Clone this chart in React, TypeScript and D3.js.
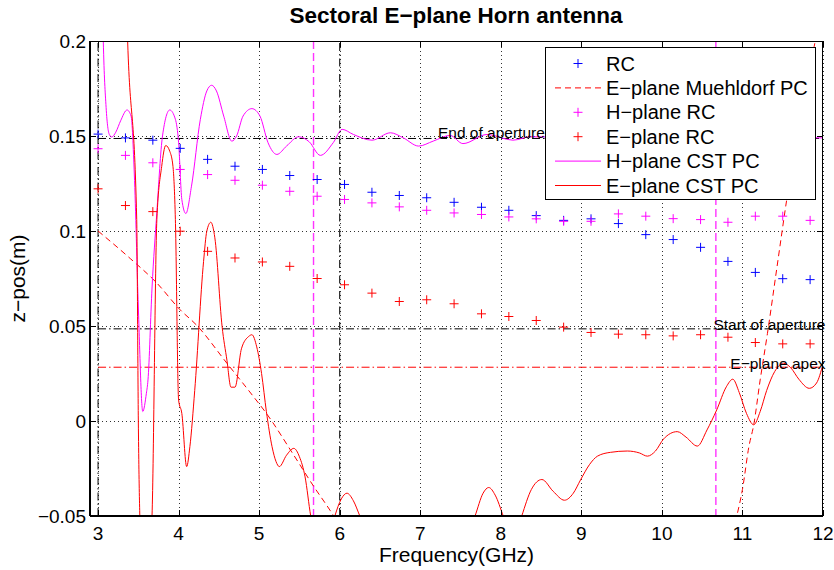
import React, { useEffect, useRef } from 'react';
import * as d3 from 'd3';

// sample frequencies of the ray-centre (RC) results, GHz
const freqRC = [3.0, 3.34, 3.68, 4.02, 4.36, 4.7, 5.04, 5.38, 5.72, 6.06, 6.4, 6.74, 7.08, 7.42,
  7.76, 8.1, 8.44, 8.78, 9.12, 9.46, 9.8, 10.14, 10.48, 10.82, 11.16, 11.5, 11.84];

const rcZ = [0.151, 0.149, 0.1478, 0.1435, 0.1377, 0.1341, 0.1324, 0.1292, 0.1271, 0.1245, 0.1204,
  0.1187, 0.1175, 0.1151, 0.1125, 0.1109, 0.1081, 0.1056, 0.1064, 0.1039, 0.0981, 0.0955, 0.0914,
  0.084, 0.0782, 0.0749, 0.0744];

const hPlaneRcZ = [0.1433, 0.1398, 0.1359, 0.1324, 0.1297, 0.1267, 0.1241, 0.1209, 0.1183, 0.1166,
  0.1148, 0.1127, 0.1109, 0.1095, 0.1087, 0.1074, 0.1064, 0.1051, 0.1051, 0.109, 0.1078, 0.1065,
  0.106, 0.1046, 0.1078, 0.1078, 0.1056];

const ePlaneRcZ = [0.1222, 0.1134, 0.1102, 0.0999, 0.0893, 0.0858, 0.0837, 0.0814, 0.075, 0.0717,
  0.0673, 0.0629, 0.0638, 0.0617, 0.0564, 0.055, 0.0529, 0.0494, 0.0466, 0.0457, 0.0454, 0.0448,
  0.0454, 0.0441, 0.0413, 0.0406, 0.0406];

// Muehldorf phase centre, E-plane (leaves the axes between ~6 and ~11 GHz)
const muehldorfPC: Array<[number, number]> = [
  [3.0, 0.1], [3.4, 0.0855], [3.73, 0.0726], [4.02, 0.0585], [4.22, 0.0506], [4.6, 0.0304],
  [4.93, 0.0128], [5.09, 0.004], [5.43, -0.018], [5.68, -0.0346], [5.88, -0.047], [6.1, -0.062],
  [7.0, -0.13], [8.5, -0.2], [10.0, -0.15], [10.7, -0.085], [10.93, -0.05], [11.0, -0.036],
  [11.08, -0.0135], [11.14, -0.002], [11.22, 0.0216], [11.31, 0.046], [11.43, 0.0814],
  [11.55, 0.1166], [11.7, 0.155], [11.89, 0.197], [11.95, 0.21],
];

const hPlaneCST: Array<[number, number]> = [
  [3.0, 0.4], [3.065, 0.2], [3.1, 0.165], [3.14, 0.1508], [3.17, 0.1495], [3.22, 0.152],
  [3.28, 0.158], [3.36, 0.1637], [3.41, 0.1605], [3.45, 0.13], [3.5, 0.06], [3.555, 0.005],
  [3.6, 0.0146], [3.62, 0.0216], [3.67, 0.07], [3.73, 0.11], [3.8, 0.15], [3.89, 0.1637],
  [3.96, 0.1588], [4.0, 0.1465], [4.04, 0.1166], [4.09, 0.1092], [4.16, 0.1236], [4.27, 0.1588],
  [4.35, 0.1737], [4.41, 0.1767], [4.47, 0.1737], [4.56, 0.1605], [4.66, 0.1473], [4.72, 0.15],
  [4.8, 0.1605], [4.91, 0.1644], [5.01, 0.1605], [5.11, 0.1465], [5.22, 0.1403], [5.34, 0.1447],
  [5.49, 0.1496], [5.62, 0.147], [5.76, 0.1398], [5.92, 0.1465], [6.03, 0.1535], [6.17, 0.1508],
  [6.4, 0.1478], [6.63, 0.1517], [6.79, 0.149], [6.98, 0.1447], [7.16, 0.1473], [7.37, 0.1503],
  [7.53, 0.146], [7.83, 0.1508], [8.15, 0.1478], [8.37, 0.1496], [9.0, 0.1492], [10.0, 0.149],
  [11.0, 0.1494], [12.0, 0.149],
];

const ePlaneCST: Array<[number, number]> = [
  [3.3, 0.32], [3.36, 0.21], [3.48, 0.106], [3.5, 0.0], [3.53, -0.07], [3.58, -0.12],
  [3.64, -0.07], [3.67, -0.05], [3.73, 0.106], [3.79, 0.134], [3.84, 0.145], [3.89, 0.142],
  [3.93, 0.134], [3.96, 0.106], [4.0, 0.011], [4.04, 0.004], [4.1, -0.024], [4.14, -0.0135],
  [4.2, 0.016], [4.31, 0.084], [4.35, 0.0999], [4.4, 0.1046], [4.45, 0.0964], [4.54, 0.0497],
  [4.6, 0.032], [4.65, 0.0178], [4.7, 0.0178], [4.78, 0.038], [4.87, 0.0445], [4.91, 0.0454],
  [4.97, 0.039], [5.03, 0.025], [5.09, 0.0049], [5.16, -0.0135], [5.21, -0.0214], [5.25, -0.024],
  [5.34, -0.018], [5.43, -0.0144], [5.5, -0.0188], [5.57, -0.0294], [5.64, -0.05], [5.8, -0.075],
  [5.94, -0.05], [6.02, -0.041], [6.09, -0.038], [6.17, -0.042], [6.25, -0.05], [6.9, -0.11],
  [7.68, -0.05], [7.78, -0.038], [7.85, -0.035], [7.93, -0.039], [8.03, -0.05], [8.15, -0.065],
  [8.26, -0.05], [8.38, -0.036], [8.51, -0.0308], [8.65, -0.037], [8.79, -0.0417], [8.9, -0.038],
  [8.99, -0.031], [9.1, -0.023], [9.2, -0.0185], [9.36, -0.0165], [9.57, -0.0158], [9.72, -0.0168],
  [9.82, -0.0185], [9.92, -0.0158], [10.02, -0.0095], [10.19, -0.0056], [10.3, -0.0085],
  [10.44, -0.0132], [10.56, -0.0047], [10.68, 0.0058], [10.8, 0.018], [10.88, 0.022],
  [10.96, 0.015], [11.05, 0.004], [11.14, -0.002], [11.22, 0.005], [11.3, 0.016], [11.4, 0.026],
  [11.51, 0.0304], [11.6, 0.028], [11.7, 0.022], [11.83, 0.0172], [11.92, 0.02], [12.0, 0.03],
];

const xTicks = [3, 4, 5, 6, 7, 8, 9, 10, 11, 12];
const yTicks = [-0.05, 0, 0.05, 0.1, 0.15, 0.2];

// reference lines: horizontal z-positions and vertical frequencies
const endOfAperture = 0.1487;
const startOfAperture = 0.0485;
const ePlaneApex = 0.0283;
const blackVLines = [3.0, 6.0];
const magentaVLines = [5.675, 10.67];

const legendItems = [
  { label: 'RC', color: '#0000ff', kind: 'marker' },
  { label: 'E\u2212plane Muehldorf PC', color: '#ff0000', kind: 'dash' },
  { label: 'H\u2212plane RC', color: '#ff00ff', kind: 'marker' },
  { label: 'E\u2212plane RC', color: '#ff0000', kind: 'marker' },
  { label: 'H\u2212plane CST PC', color: '#ff00ff', kind: 'line' },
  { label: 'E\u2212plane CST PC', color: '#ff0000', kind: 'line' },
];

const FONT = '"Liberation Sans", Arial, Helvetica, sans-serif';
const PLUS = 'M-4.5,0H4.5M0,-4.5V4.5';

const App: React.FC = () => {
  const svgRef = useRef<SVGSVGElement>(null);

  useEffect(() => {
    const svg = d3.select(svgRef.current);
    svg.selectAll('*').remove();

    const width = 834;
    const height = 570;
    const margin = { top: 41, right: 11, bottom: 54, left: 90 };
    const x0 = margin.left;
    const x1 = width - margin.right;
    const y0 = height - margin.bottom;
    const y1 = margin.top;

    const x = d3.scaleLinear().domain([2.9, 12]).range([x0, x1]);
    const y = d3.scaleLinear().domain([-0.05, 0.2]).range([y0, y1]);

    svg.append('defs').append('clipPath').attr('id', 'plot-clip')
      .append('rect').attr('x', x0).attr('y', y1).attr('width', x1 - x0).attr('height', y0 - y1);

    // dotted grid
    const grid = svg.append('g').attr('stroke', '#333').attr('stroke-width', 1).attr('stroke-dasharray', '1,3');
    grid.selectAll('line.gx').data(xTicks).join('line')
      .attr('x1', d => Math.round(x(d)) + 0.5).attr('x2', d => Math.round(x(d)) + 0.5)
      .attr('y1', y0).attr('y2', y1);
    grid.selectAll('line.gy').data(yTicks).join('line')
      .attr('x1', x0).attr('x2', x1)
      .attr('y1', d => Math.round(y(d)) + 0.5).attr('y2', d => Math.round(y(d)) + 0.5);

    const plot = svg.append('g').attr('clip-path', 'url(#plot-clip)');

    // reference lines
    plot.selectAll('line.bv').data(blackVLines).join('line')
      .attr('x1', d => x(d)).attr('x2', d => x(d)).attr('y1', y0).attr('y2', y1)
      .attr('stroke', '#000').attr('stroke-dasharray', '8,3,1.5,3');
    plot.selectAll('line.mv').data(magentaVLines).join('line')
      .attr('x1', d => x(d)).attr('x2', d => x(d)).attr('y1', y1).attr('y2', y0)
      .attr('stroke', '#ff33ff').attr('stroke-width', 1.4).attr('stroke-dasharray', '8,4');
    plot.selectAll('line.bh').data([endOfAperture, startOfAperture]).join('line')
      .attr('x1', x(3)).attr('x2', x(12)).attr('y1', d => y(d)).attr('y2', d => y(d))
      .attr('stroke', '#000').attr('stroke-dasharray', '8,3,1.5,3');
    plot.append('line')
      .attr('x1', x(3)).attr('x2', x(12)).attr('y1', y(ePlaneApex)).attr('y2', y(ePlaneApex))
      .attr('stroke', '#ff0000').attr('stroke-dasharray', '8,3,1.5,3');

    // curves
    const line = d3.line<[number, number]>()
      .x(d => x(d[0])).y(d => y(d[1]))
      .curve(d3.curveMonotoneX);

    plot.append('path').datum(muehldorfPC).attr('d', line)
      .attr('fill', 'none').attr('stroke', '#ff0000').attr('stroke-dasharray', '6,4');
    plot.append('path').datum(hPlaneCST).attr('d', line)
      .attr('fill', 'none').attr('stroke', '#ff00ff');
    plot.append('path').datum(ePlaneCST).attr('d', line)
      .attr('fill', 'none').attr('stroke', '#ff0000');

    // RC markers
    const series = [
      { values: rcZ, color: '#0000ff' },
      { values: hPlaneRcZ, color: '#ff00ff' },
      { values: ePlaneRcZ, color: '#ff0000' },
    ];
    series.forEach(s => {
      plot.append('g').selectAll('path').data(s.values).join('path')
        .attr('transform', (d, i) => `translate(${x(freqRC[i])},${y(d)})`)
        .attr('d', PLUS).attr('fill', 'none').attr('stroke', s.color);
    });

    // annotations
    const notes = [
      { text: 'End of aperture', fx: 7.22, z: endOfAperture, dy: 0 },
      { text: 'Start of aperture', fx: 10.64, z: startOfAperture, dy: 1 },
      { text: 'E\u2212plane apex', fx: 10.85, z: ePlaneApex, dy: 2 },
    ];
    svg.append('g').selectAll('text').data(notes).join('text')
      .attr('x', d => x(d.fx)).attr('y', d => y(d.z) + d.dy)
      .style('font-family', FONT).style('font-size', '15.5px').attr('fill', '#000')
      .text(d => d.text);

    // axes box and ticks (inward)
    const axes = svg.append('g').attr('stroke', '#000');
    axes.append('line').attr('x1', x0).attr('x2', x1).attr('y1', y0).attr('y2', y0).attr('stroke-width', 2);
    axes.append('line').attr('x1', x0).attr('x2', x0).attr('y1', y0).attr('y2', y1).attr('stroke-width', 2);
    axes.append('line').attr('x1', x0).attr('x2', x1).attr('y1', y1 + 0.5).attr('y2', y1 + 0.5);
    axes.append('line').attr('x1', x1 - 0.5).attr('x2', x1 - 0.5).attr('y1', y0).attr('y2', y1);
    const tl = 6;
    xTicks.forEach(t => {
      const px = Math.round(x(t)) + 0.5;
      axes.append('line').attr('x1', px).attr('x2', px).attr('y1', y0).attr('y2', y0 - tl);
      axes.append('line').attr('x1', px).attr('x2', px).attr('y1', y1).attr('y2', y1 + tl);
    });
    yTicks.forEach(t => {
      const py = Math.round(y(t)) + 0.5;
      axes.append('line').attr('x1', x0).attr('x2', x0 + tl).attr('y1', py).attr('y2', py);
      axes.append('line').attr('x1', x1).attr('x2', x1 - tl).attr('y1', py).attr('y2', py);
    });

    const fmtY = (v: number) => (v < 0 ? '\u2212' + String(-v) : String(v));
    svg.append('g').selectAll('text').data(xTicks).join('text')
      .attr('x', d => x(d)).attr('y', y0 + 24).attr('text-anchor', 'middle')
      .style('font-family', FONT).style('font-size', '19px').text(d => String(d));
    svg.append('g').selectAll('text').data(yTicks).join('text')
      .attr('x', x0 - 4).attr('y', d => y(d)).attr('dy', '0.35em').attr('text-anchor', 'end')
      .style('font-family', FONT).style('font-size', '19px').text(d => fmtY(d));

    // labels & title
    svg.append('text')
      .attr('x', (x0 + x1) / 2).attr('y', 562).attr('text-anchor', 'middle')
      .style('font-family', FONT).style('font-size', '21px').text('Frequency(GHz)');
    svg.append('text')
      .attr('transform', `translate(25,${(y0 + y1) / 2}) rotate(-90)`).attr('text-anchor', 'middle')
      .style('font-family', FONT).style('font-size', '21px').text('z\u2212pos(m)');
    svg.append('text')
      .attr('x', 456).attr('y', 23).attr('text-anchor', 'middle')
      .style('font-family', FONT).style('font-size', '22.5px').style('font-weight', 'bold')
      .text('Sectoral E\u2212plane Horn antenna');

    // legend
    const lg = svg.append('g');
    lg.append('rect').attr('x', 545.5).attr('y', 47.5).attr('width', 270).attr('height', 152)
      .attr('fill', '#fff').attr('stroke', '#000');
    const rowY = (i: number) => 63.5 + i * 24.4;
    legendItems.forEach((it, i) => {
      const cy = rowY(i);
      if (it.kind === 'marker') {
        lg.append('path').attr('transform', `translate(578,${cy})`).attr('d', PLUS)
          .attr('fill', 'none').attr('stroke', it.color);
      } else {
        lg.append('line').attr('x1', 555).attr('x2', 601).attr('y1', cy).attr('y2', cy)
          .attr('stroke', it.color).attr('stroke-dasharray', it.kind === 'dash' ? '6,4' : null);
      }
      lg.append('text').attr('x', 606).attr('y', cy).attr('dy', '0.35em')
        .style('font-family', FONT).style('font-size', '20px').text(it.label);
    });
  }, []);

  return (
    <svg
      ref={svgRef}
      width={834}
      height={570}
      style={{ position: 'absolute', left: 0, top: 0, background: '#fff' }}
    />
  );
};

export default App;
